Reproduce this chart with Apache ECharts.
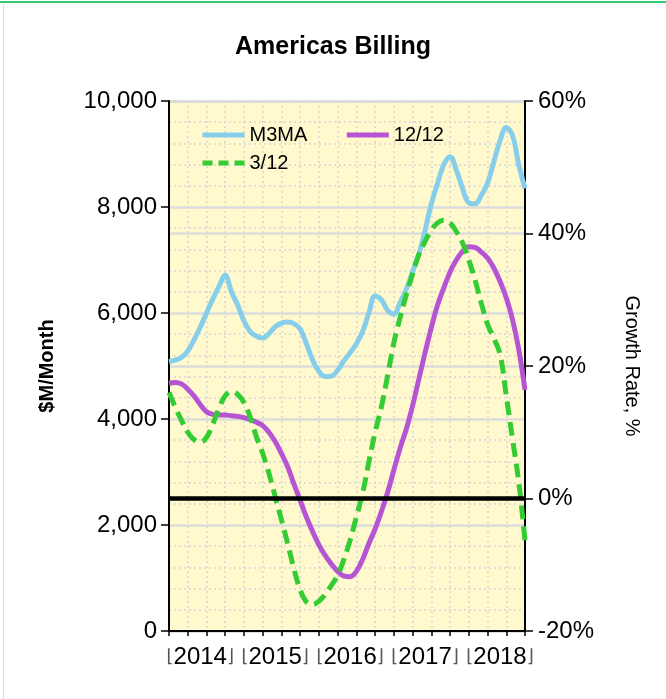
<!DOCTYPE html>
<html>
<head>
<meta charset="utf-8">
<script src="https://cdn.jsdelivr.net/npm/echarts@6/dist/echarts.min.js"></script>
<style>
  html, body { margin: 0; padding: 0; background: #fff; }
  #main { width: 666px; height: 699px; }
</style>
</head>
<body>
<div id="main"></div>
<script>
// monthly points, Feb 2014 .. Nov 2018
const months = [
  '2014-02','2014-03','2014-04','2014-05','2014-06','2014-07','2014-08','2014-09','2014-10','2014-11','2014-12',
  '2015-01','2015-02','2015-03','2015-04','2015-05','2015-06','2015-07','2015-08','2015-09','2015-10','2015-11','2015-12',
  '2016-01','2016-02','2016-03','2016-04','2016-05','2016-06','2016-07','2016-08','2016-09','2016-10','2016-11','2016-12',
  '2017-01','2017-02','2017-03','2017-04','2017-05','2017-06','2017-07','2017-08','2017-09','2017-10','2017-11','2017-12',
  '2018-01','2018-02','2018-03','2018-04','2018-05','2018-06','2018-07','2018-08','2018-09','2018-10','2018-11'
];

// $M/Month, 3-month moving average
const m3ma = [
  5080, 5110, 5160, 5280, 5490, 5730, 6000, 6260, 6500, 6710, 6400,
  6150, 5850, 5650, 5560, 5530, 5610, 5740, 5810, 5830, 5800, 5700, 5420,
  5110, 4900, 4800, 4810, 4920, 5100, 5250, 5420, 5650, 6000, 6320, 6250,
  6050, 5980, 6200, 6450, 6780, 7110, 7560, 8060, 8450, 8800, 8950, 8700,
  8350, 8080, 8060, 8220, 8450, 8850, 9250, 9500, 9350, 8800, 8350
];

// growth rate %, 12/12
const g1212 = [
  17.4, 17.5, 17.3, 16.5, 15.5, 14.2, 13.1, 12.7, 12.6, 12.6, 12.5,
  12.4, 12.2, 11.9, 11.5, 11.0, 10.0, 8.6, 6.8, 4.8, 2.2, -0.3, -2.8,
  -5.0, -7.0, -8.6, -9.9, -11.0, -11.7, -11.8, -11.0, -9.2, -6.8, -4.6, -2.0,
  0.9, 4.3, 7.6, 10.5, 14.0, 18.0, 22.0, 25.8, 29.2, 31.8, 34.2, 36.0,
  37.3, 38.0, 37.9, 37.2, 36.3, 34.8, 32.8, 30.3, 27.0, 22.5, 16.4
];

// growth rate %, 3/12
const g312 = [
  16.0, 13.8, 11.8, 10.0, 8.9, 8.5, 9.2, 11.2, 13.6, 15.5, 16.1,
  15.7, 14.5, 12.3, 9.3, 6.8, 3.8, 0.3, -3.2, -6.8, -10.6, -13.8, -15.6,
  -16.0, -15.5, -14.5, -13.1, -11.6, -9.2, -6.3, -2.8, 0.8, 5.5, 10.0, 13.8,
  18.5, 23.5, 27.3, 30.8, 33.9, 36.8, 38.8, 40.5, 41.6, 42.0, 41.6, 40.3,
  38.6, 36.0, 33.0, 29.5, 26.3, 24.2, 21.8, 15.5, 9.0, 2.5, -6.3
];

const FONT = 'Liberation Sans, Arial, sans-serif';
const chart = echarts.init(document.getElementById('main'));

const legendText = { fontFamily: FONT, fontSize: 20, color: '#000' };

const option = {
  animation: false,
  backgroundColor: '#fff',
  textStyle: { fontFamily: FONT, color: '#000' },
  graphic: [
    { type: 'rect', shape: { x: 0, y: 1, width: 666, height: 2 }, style: { fill: '#2ecc71' } },
    { type: 'rect', shape: { x: 3, y: 4, width: 1, height: 695 }, style: { fill: '#dddddd' } }
  ],
  title: {
    text: 'Americas Billing',
    left: 'center',
    top: 30,
    textStyle: { fontFamily: FONT, fontSize: 25, fontWeight: 'bold', color: '#000' }
  },
  legend: [
    {
      data: ['M3MA', '12/12'],
      left: 195, top: 120,
      itemWidth: 42, itemHeight: 14, itemGap: 37,
      itemStyle: { opacity: 0 },
      lineStyle: { width: 5 },
      textStyle: legendText
    },
    {
      data: [{ name: '3/12', lineStyle: { width: 5, type: [10, 6] } }],
      left: 195, top: 148,
      itemWidth: 42, itemHeight: 14,
      itemStyle: { opacity: 0 },
      lineStyle: { width: 5 },
      textStyle: legendText
    }
  ],
  grid: {
    left: 169, right: 141, top: 101, bottom: 68,
    show: true, backgroundColor: '#fff9cd', borderWidth: 0
  },
  xAxis: {
    type: 'category',
    data: months,
    boundaryGap: false,
    axisLine: { lineStyle: { color: '#000', width: 2 } },
    axisTick: { interval: 2, length: 5, lineStyle: { color: '#000', width: 1.5 } },
    splitLine: { show: true, interval: 2, lineStyle: { color: '#d6d6d6', width: 1.5, type: [2, 3] } },
    axisLabel: {
      interval: (i) => i % 12 === 5,
      margin: 14,
      fontSize: 24,
      color: '#000',
      fontFamily: FONT,
      formatter: (v) => '{b|⌊}' + v.slice(0, 4) + '{b|⌋}',
      rich: { b: { fontSize: 18, color: '#555', fontFamily: 'DejaVu Sans' } }
    }
  },
  yAxis: [
    {
      type: 'value',
      min: 0, max: 10000, interval: 2000,
      name: '$M/Month',
      nameLocation: 'middle',
      nameRotate: 90,
      nameGap: 112,
      nameTextStyle: { fontFamily: FONT, fontSize: 20, fontWeight: 'bold', color: '#000' },
      axisLine: { show: true, lineStyle: { color: '#000', width: 2 } },
      axisTick: { show: true, length: 8, lineStyle: { color: '#000', width: 1.5 } },
      axisLabel: {
        margin: 12, fontSize: 24, color: '#000', fontFamily: FONT,
        formatter: (v) => v.toLocaleString('en-US')
      },
      splitLine: { show: true, lineStyle: { color: '#dcdcdc', width: 2.5 } },
      minorTick: { show: false, splitNumber: 5 },
      minorSplitLine: { show: true, lineStyle: { color: '#d6d6d6', width: 1.5, type: [2, 3] } }
    },
    {
      type: 'value',
      min: -20, max: 60, interval: 20,
      position: 'right',
      name: 'Growth Rate, %',
      nameLocation: 'middle',
      nameRotate: -90,
      nameGap: 97,
      nameTextStyle: { fontFamily: FONT, fontSize: 20, color: '#000' },
      axisLine: { show: true, lineStyle: { color: '#000', width: 2 } },
      axisTick: { show: true, length: 8, lineStyle: { color: '#000', width: 1.5 } },
      axisLabel: {
        margin: 13, fontSize: 24, color: '#000', fontFamily: FONT,
        formatter: (v) => v + '%'
      },
      splitLine: { show: true, lineStyle: { color: '#dcdcdc', width: 2.5 } }
    }
  ],
  series: [
    {
      name: 'M3MA',
      type: 'line',
      yAxisIndex: 0,
      data: m3ma,
      smooth: 0.4,
      symbol: 'none',
      lineStyle: { color: '#87ceeb', width: 5 },
      itemStyle: { color: '#87ceeb' }
    },
    {
      name: '12/12',
      type: 'line',
      yAxisIndex: 1,
      data: g1212,
      smooth: 0.4,
      symbol: 'none',
      lineStyle: { color: '#b655d4', width: 5 },
      itemStyle: { color: '#b655d4' },
      markLine: {
        silent: true,
        symbol: 'none',
        label: { show: false },
        lineStyle: { color: '#000', width: 4.5, type: 'solid' },
        data: [{ yAxis: 0 }]
      }
    },
    {
      name: '3/12',
      type: 'line',
      yAxisIndex: 1,
      data: g312,
      smooth: 0.4,
      symbol: 'none',
      lineStyle: { color: '#33cc33', width: 5, type: [14, 7] },
      itemStyle: { color: '#33cc33' }
    }
  ]
};

chart.setOption(option);
</script>
</body>
</html>
